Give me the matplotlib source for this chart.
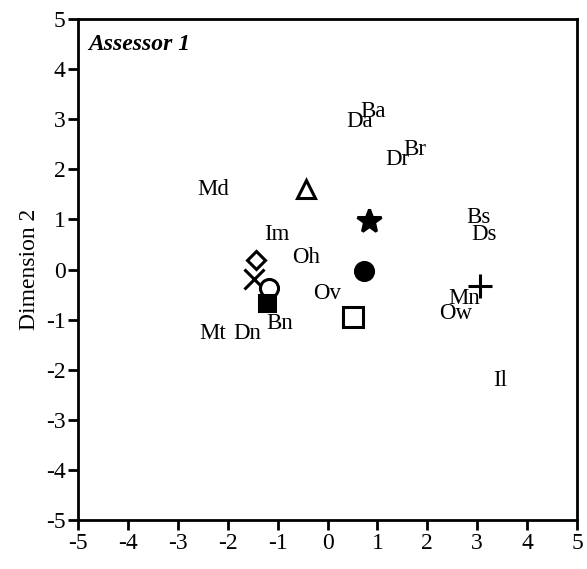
import matplotlib
matplotlib.use("Agg")
import matplotlib.pyplot as plt

# word labels (attribute codes) and their coordinates
label_names = ["Ba", "Da", "Br", "Dr", "Md", "Im", "Oh", "Ov", "Bs", "Ds",
               "Mn", "Ow", "Il", "Bn", "Mt", "Dn"]
label_x = [0.92, 0.64, 1.74, 1.40, -2.30, -1.02, -0.42, 0.00, 3.02, 3.14,
           2.74, 2.56, 3.46, -0.96, -2.30, -1.60]
label_y = [3.15, 2.95, 2.39, 2.19, 1.59, 0.69, 0.23, -0.47, 1.03, 0.69,
           -0.57, -0.87, -2.21, -1.07, -1.27, -1.27]

# symbol points
sym_x = [-0.44, 0.84, 0.74, 0.52, 3.06, -1.44, -1.48, -1.18, -1.22]
sym_y = [1.60, 0.97, -0.02, -0.95, -0.33, 0.19, -0.19, -0.37, -0.67]

# marker styles for the symbols: (marker, size, filled)
sym_style = [("^", 13, False), ("*", 18, True), ("o", 13, True),
             ("s", 14, False), ("+", 17, True), ("D", 9, False),
             ("x", 15, True), ("o", 13, False), ("s", 12, True)]

ticks = [-5, -4, -3, -2, -1, 0, 1, 2, 3, 4, 5]

plt.rcParams["font.family"] = ["Liberation Serif", "DejaVu Serif"]

fig = plt.figure(figsize=(5.87, 5.69), dpi=100)
ax = fig.add_axes([0.1329, 0.0861, 0.8501, 0.8805])

for x, y, (m, ms, filled) in zip(sym_x, sym_y, sym_style):
    if m in ("+", "x"):
        ax.plot(x, y, marker=m, markersize=ms, color="black", mew=2.2,
                linestyle="none", zorder=3)
    else:
        ax.plot(x, y, marker=m, markersize=ms,
                markerfacecolor="black" if filled else "white",
                markeredgecolor="black", mew=2.2, linestyle="none", zorder=3)

for name, x, y in zip(label_names, label_x, label_y):
    ax.text(x, y, name, ha="center", va="center", fontsize=16.5, zorder=4)

ax.text(0.02, 0.97, "Assessor 1", transform=ax.transAxes, ha="left",
        va="top", fontsize=17, style="italic", fontweight="bold")

ax.set_xlim(-5, 5)
ax.set_ylim(-5, 5)
ax.set_xticks(ticks)
ax.set_yticks(ticks)
ax.set_xticklabels([str(t) for t in ticks], fontsize=17)
ax.set_yticklabels([str(t) for t in ticks], fontsize=17)
ax.tick_params(direction="out", length=7, width=2, pad=2)
for s in ax.spines.values():
    s.set_linewidth(2)
ax.set_ylabel("Dimension 2", fontsize=17, labelpad=4)

fig.savefig("out.png", dpi=100)
